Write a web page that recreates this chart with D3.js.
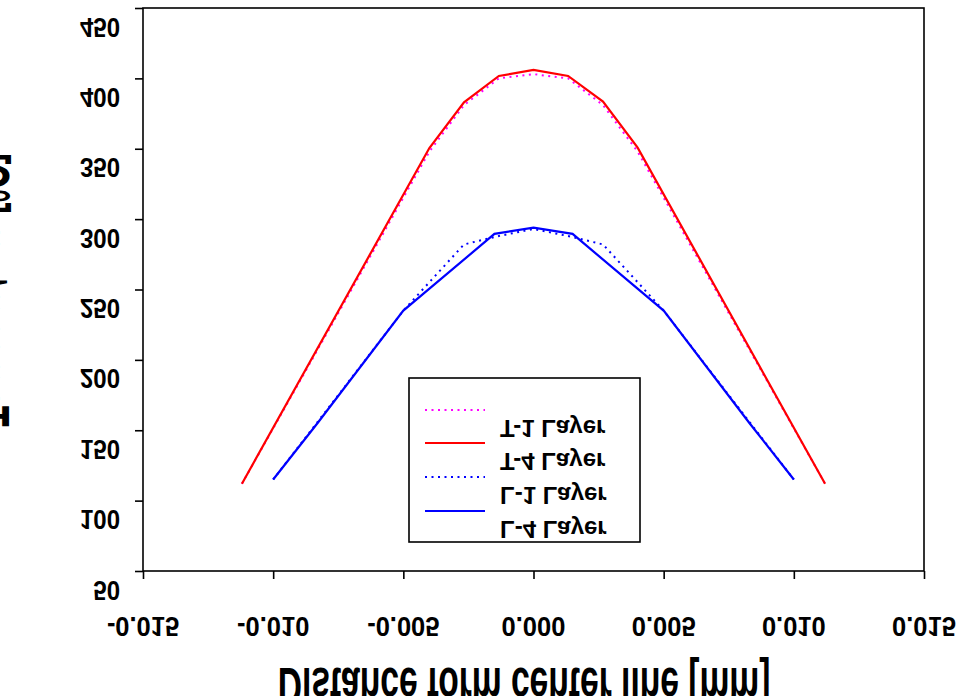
<!DOCTYPE html>
<html>
<head>
<meta charset="utf-8">
<script src="https://cdn.jsdelivr.net/npm/d3@7"></script>
<style>
  html, body { margin: 0; padding: 0; background: #fff; }
  svg { display: block; }
  text { font-family: "Liberation Sans", Arial, sans-serif; font-weight: bold; fill: #000; }
</style>
</head>
<body>
<svg id="chart" width="962" height="696"></svg>
<script>
// ---- data ----
const xTicks = [-0.015, -0.010, -0.005, 0.000, 0.005, 0.010, 0.015];
const xTickLabels = ["-0.015", "-0.010", "-0.005", "0.000", "0.005", "0.010", "0.015"];
const yTicks = [50, 100, 150, 200, 250, 300, 350, 400, 450];
const yTickLabels = ["50", "100", "150", "200", "250", "300", "350", "400", "450"];

const seriesNames = ["T-1 Layer", "T-4 Layer", "L-1 Layer", "L-4 Layer"];

const t1X = [-0.0112, -0.0040, -0.00267, -0.00133, 0.0, 0.00133, 0.00267, 0.0040, 0.0112];
const t1Y = [112, 348, 381, 400, 403, 400, 381, 348, 112];

const t4X = [-0.0112, -0.0040, -0.00267, -0.00133, 0.0, 0.00133, 0.00267, 0.0040, 0.0112];
const t4Y = [112, 350.5, 383, 401.7, 406, 401.7, 383.5, 350.8, 112];

const l1X = [-0.0100, -0.0050, -0.00267, -0.00133, 0.0, 0.00133, 0.00267, 0.0050, 0.0100];
const l1Y = [115, 235, 282, 288, 293, 288, 282, 235, 115];

const l4X = [-0.0100, -0.0083, -0.0050, -0.0015, 0.0, 0.0015, 0.0050, 0.0083, 0.0100];
const l4Y = [115, 155, 235, 289.5, 294, 289.5, 235, 155, 115];

const xTitle = "Distance form center line [mm]";
const yTitle = "Temperature [°C]";

// ---- layout ----
const svg = d3.select("#chart");
const pLeft = 143, pRight = 924, pTop = 8, pBottom = 571;

const x = d3.scaleLinear().domain([-0.015, 0.015]).range([pLeft, pRight]);
const y = d3.scaleLinear().domain([50, 450]).range([pBottom, pTop]);

const series = [
  { name: seriesNames[0], xs: t1X, ys: t1Y, color: "#ff00ff", dash: "2,4.5" },
  { name: seriesNames[1], xs: t4X, ys: t4Y, color: "#ff0000", dash: null },
  { name: seriesNames[2], xs: l1X, ys: l1Y, color: "#0000ff", dash: "2,4.5" },
  { name: seriesNames[3], xs: l4X, ys: l4Y, color: "#0000ff", dash: null }
];

// frame
svg.append("rect")
  .attr("x", pLeft).attr("y", pTop)
  .attr("width", pRight - pLeft).attr("height", pBottom - pTop)
  .attr("fill", "none").attr("stroke", "#000").attr("stroke-width", 1.6);

// axes
const xAxis = d3.axisBottom(x).tickValues(xTicks).tickSize(8).tickFormat("");
const gx = svg.append("g").attr("transform", `translate(0,${pBottom})`).call(xAxis);
gx.select(".domain").remove();
gx.selectAll(".tick line").attr("stroke", "#000").attr("stroke-width", 1.6);

const yAxis = d3.axisLeft(y).tickValues(yTicks).tickSize(8).tickFormat("");
const gy = svg.append("g").attr("transform", `translate(${pLeft},0)`).call(yAxis);
gy.select(".domain").remove();
gy.selectAll(".tick line").attr("stroke", "#000").attr("stroke-width", 1.6);

// tick labels (glyphs drawn vertically mirrored, as in the reference)
svg.append("g").selectAll("text")
  .data(xTicks)
  .join("text")
  .attr("transform", d => `translate(${x(d)},617) scale(1,-1.05)`)
  .attr("text-anchor", "middle")
  .style("font-size", "25.5px")
  .text((d, i) => xTickLabels[i]);

svg.append("g").selectAll("text")
  .data(yTicks)
  .join("text")
  .attr("transform", d => `translate(120,${y(d) + 9.5}) scale(1,-1.13)`)
  .attr("text-anchor", "end")
  .style("font-size", "24px")
  .text((d, i) => yTickLabels[i]);

// lines
const line = d3.line().x(d => x(d[0])).y(d => y(d[1]));
series.forEach(s => {
  const pts = s.xs.map((v, i) => [v, s.ys[i]]);
  svg.append("path")
    .datum(pts)
    .attr("d", line)
    .attr("fill", "none")
    .attr("stroke", s.color)
    .attr("stroke-width", s.dash ? 2 : 2.2)
    .attr("stroke-dasharray", s.dash);
});

// legend
const lg = svg.append("g");
lg.append("rect")
  .attr("x", 409).attr("y", 378).attr("width", 231).attr("height", 164)
  .attr("fill", "#fff").attr("stroke", "#000").attr("stroke-width", 1.6);
const legLineY = [410, 443, 477, 511];
series.forEach((s, i) => {
  lg.append("line")
    .attr("x1", 425).attr("x2", 485)
    .attr("y1", legLineY[i]).attr("y2", legLineY[i])
    .attr("stroke", s.color)
    .attr("stroke-width", s.dash ? 2 : 2.2)
    .attr("stroke-dasharray", s.dash);
  lg.append("text")
    .attr("transform", `translate(500,${legLineY[i] + 10}) scale(1,-1)`)
    .style("font-size", "24px")
    .text(s.name);
});

// axis titles (mirrored, tall, partly outside the picture as in the reference)
svg.append("text")
  .attr("transform", `translate(524,668) scale(1,-1.6)`)
  .attr("text-anchor", "middle")
  .style("font-size", "33.6px")
  .text(xTitle);

svg.append("text")
  .attr("transform", `translate(-33,290) rotate(-90) scale(1,-1.8)`)
  .attr("text-anchor", "middle")
  .style("font-size", "34px")
  .text(yTitle);
</script>
</body>
</html>
